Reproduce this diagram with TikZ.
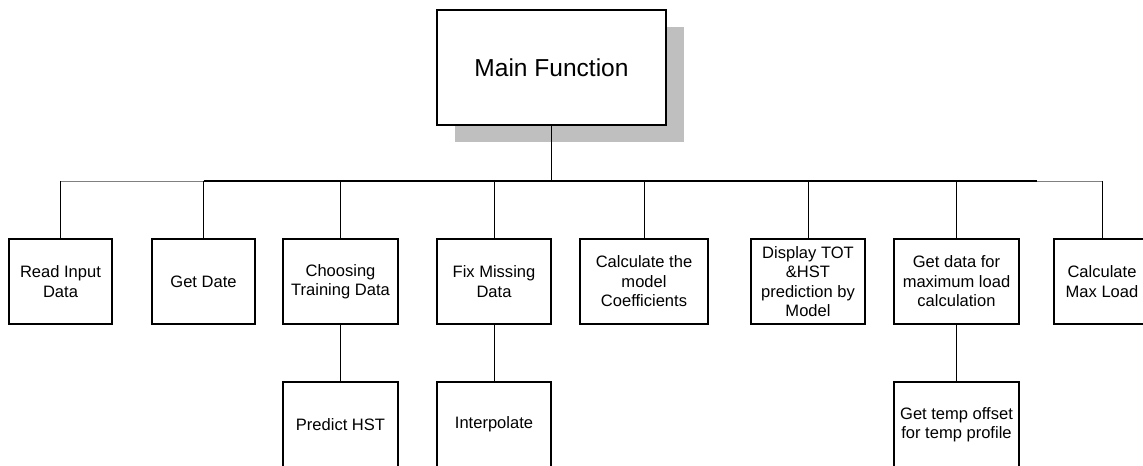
\documentclass[tikz,border=0pt]{standalone}
\usepackage{fontspec}
\setmainfont{Liberation Sans}
\usetikzlibrary{shadows}
\tikzset{
  box/.style={draw, line width=0.8pt, fill=white, align=center, inner sep=1pt,
    minimum height=63.75pt, font=\fontsize{12.4}{14.6}\selectfont},
  mainbox/.style={box, minimum width=171.75pt, minimum height=86.25pt,
    font=\fontsize{18.4}{22}\selectfont,
    drop shadow={shadow xshift=13.5pt, shadow yshift=-12.75pt, fill=gray!50, opacity=1}},
  link/.style={line width=0.6pt},
  busline/.style={line width=1.5pt}
}
\begin{document}
\begin{tikzpicture}[x=0.75pt,y=-0.75pt]
    \useasboundingbox (0,0) rectangle (1143,465);
    \node[mainbox] (main) at (551.5,67.5) {Main Function};
    % first level
    \node[box, minimum width=77.25pt] (read) at (60.5,281.5) {Read Input\\Data};
    \node[box, minimum width=77.25pt] (date) at (203.5,281.5) {Get Date};
    \node[box, minimum width=86.25pt] (choose) at (340.5,281.5) {Choosing\\Training Data};
    \node[box, minimum width=85.5pt] (fix) at (494,281.5) {Fix Missing\\Data};
    \node[box, minimum width=96pt] (coef) at (644,281.5) {Calculate the\\model\\Coefficients};
    \node[box, minimum width=85.5pt] (show) at (808,281.5) {Display TOT\\\&HST\\prediction by\\Model};
    \node[box, minimum width=93.75pt] (maxdata) at (956.5,281.5) {Get data for\\maximum load\\calculation};
    \node[box, minimum width=72pt] (cmax) at (1102,281.5) {Calculate\\Max Load};
    % second level
    \node[box, minimum width=86.25pt] (hst) at (340.5,424.5) {Predict HST};
    \node[box, minimum width=85.5pt] (interp) at (494,424.5) {Interpolate};
    \node[box, minimum width=93.75pt] (offset) at (956.5,424.5) {Get temp offset\\for temp profile};

    \coordinate (bus) at (551.5,181);
    \draw[link] (main) -- (bus);
    \draw[link, gray] (read.north |- bus) -- (cmax.north |- bus);
    \draw[busline, shorten >=48.75pt] (date.north |- bus) -- (cmax.north |- bus);
    \foreach \n in {read,date,choose,fix,coef,show,maxdata,cmax}
      \draw[link] (\n.north) -- (\n.north |- bus);
    \draw[link] (choose) -- (hst);
    \draw[link] (fix) -- (interp);
    \draw[link] (maxdata) -- (offset);
\end{tikzpicture}
\end{document}
